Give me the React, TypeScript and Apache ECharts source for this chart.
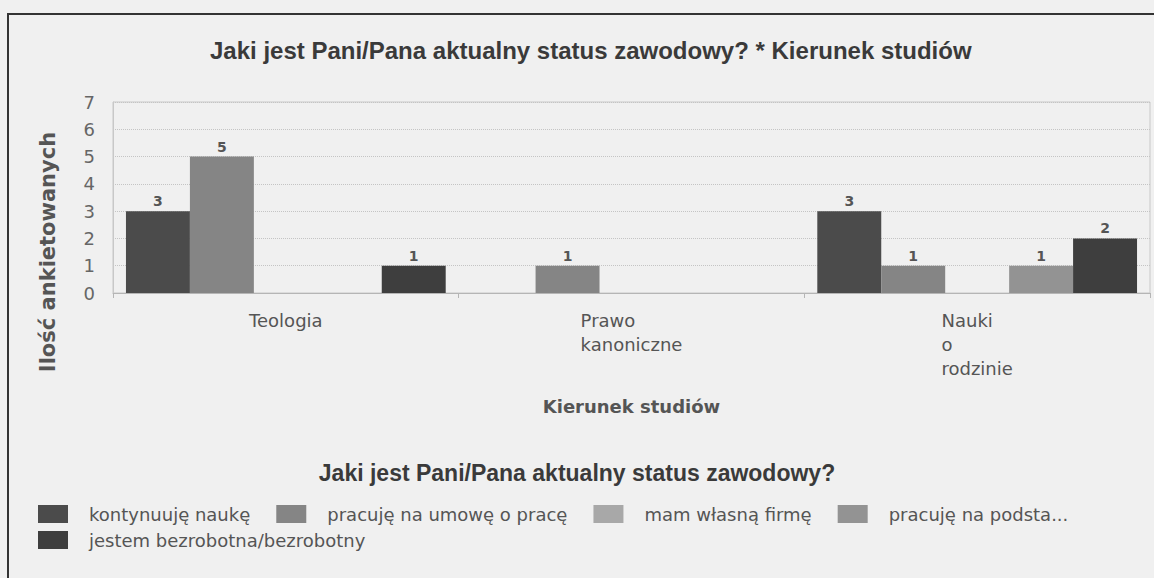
import React, { useEffect, useRef } from "react";
import * as echarts from "echarts";

const categories = ["Teologia", "Prawo\nkanoniczne", "Nauki\no\nrodzinie"];
const seriesNames = [
  "kontynuuję naukę",
  "pracuję na umowę o pracę",
  "mam własną firmę",
  "pracuję na podsta...",
  "jestem bezrobotna/bezrobotny",
];
const kontynuujeNauke = [3, 0, 3];
const pracujeNaUmowe = [5, 1, 1];
const wlasnaFirma = [0, 0, 0];
const pracujeNaPodstawie = [0, 0, 1];
const bezrobotny = [1, 0, 2];
const seriesValues = [kontynuujeNauke, pracujeNaUmowe, wlasnaFirma, pracujeNaPodstawie, bezrobotny];
const seriesColors = ["#4b4b4b", "#858585", "#a8a8a8", "#939393", "#3e3e3e"];

const mainTitle = "Jaki jest Pani/Pana aktualny status zawodowy? * Kierunek studiów";
const legendTitle = "Jaki jest Pani/Pana aktualny status zawodowy?";
const xAxisName = "Kierunek studiów";
const yAxisName = "Ilość ankietowanych";

export default function App() {
  const ref = useRef<HTMLDivElement>(null);
  useEffect(() => {
    if (!ref.current) return;
    const chart = echarts.init(ref.current, undefined, { renderer: "svg" });
    const textFont = "'DejaVu Sans', Verdana, sans-serif";
    const titleFont = "'Liberation Sans', Arial, sans-serif";
    const legendBase = {
      icon: "rect",
      itemWidth: 30,
      itemHeight: 18,
      itemGap: 26,
      left: 38,
      padding: 0,
      orient: "horizontal",
      textStyle: { fontSize: 18, color: "#555", fontFamily: textFont, padding: [0, 0, 0, 16] },
    };
    chart.setOption({
      animation: false,
      backgroundColor: "#f0f0f0",
      color: seriesColors,
      title: [
        {
          text: mainTitle,
          left: 205,
          top: 33,
          textStyle: { fontSize: 24, fontWeight: "bold", color: "#3a3a3a", fontFamily: titleFont },
        },
        {
          text: legendTitle,
          left: "center",
          top: 456,
          textStyle: { fontSize: 23, fontWeight: "bold", color: "#3a3a3a", fontFamily: titleFont },
        },
      ],
      legend: [
        { ...legendBase, top: 505, data: seriesNames.slice(0, 4) },
        { ...legendBase, top: 531, data: seriesNames.slice(4) },
      ],
      grid: {
        left: 113,
        right: 4,
        top: 102,
        bottom: 285,
        show: true,
        borderColor: "#c8c8c8",
        borderWidth: 1,
      },
      xAxis: {
        type: "category",
        data: categories,
        name: xAxisName,
        nameLocation: "middle",
        nameGap: 104,
        nameTextStyle: { fontSize: 18, fontWeight: "bold", color: "#555", fontFamily: textFont },
        axisLine: { lineStyle: { color: "#b5b5b5" } },
        axisTick: { show: true, length: 5, lineStyle: { color: "#b5b5b5" } },
        axisLabel: {
          color: "#555",
          fontSize: 18,
          fontFamily: textFont,
          margin: 15,
          interval: 0,
          lineHeight: 24,
          formatter: (v: string) => v.split("\n").map((l) => `{l|${l}}`).join("\n"),
          rich: { l: { align: "left", fontSize: 18, color: "#555", fontFamily: textFont, lineHeight: 24 } },
        },
      },
      yAxis: {
        type: "value",
        min: 0,
        max: 7,
        interval: 1,
        axisLine: { show: true, lineStyle: { color: "#c8c8c8" } },
        axisLabel: { color: "#666", fontSize: 18, fontFamily: textFont, margin: 18 },
        splitLine: { lineStyle: { color: "#c4c4c4", type: "dotted" } },
      },
      series: seriesNames.map((name, i) => ({
        name,
        type: "bar",
        data: seriesValues[i],
        barGap: "0%",
        barCategoryGap: "7.5%",
        label: {
          show: true,
          position: "top",
          distance: 3,
          fontSize: 14,
          fontWeight: "bold",
          color: "#555",
          fontFamily: textFont,
          formatter: (p: any) => (p.value ? String(p.value) : ""),
        },
      })),
      graphic: [
        {
          type: "rect",
          shape: { x: 8, y: 14, width: 1200, height: 620 },
          style: { fill: "none", stroke: "#333", lineWidth: 2 },
          silent: true,
        },
        {
          type: "text",
          x: 48,
          y: 252,
          rotation: Math.PI / 2,
          style: {
            text: yAxisName,
            fontSize: 21,
            fontWeight: "bold",
            fill: "#555",
            fontFamily: textFont,
            align: "center",
            verticalAlign: "middle",
          },
        },
      ],
    });
    return () => chart.dispose();
  }, []);
  return (
    <div
      ref={ref}
      style={{ position: "absolute", left: 0, top: 0, width: 1154, height: 578 }}
    />
  );
}
